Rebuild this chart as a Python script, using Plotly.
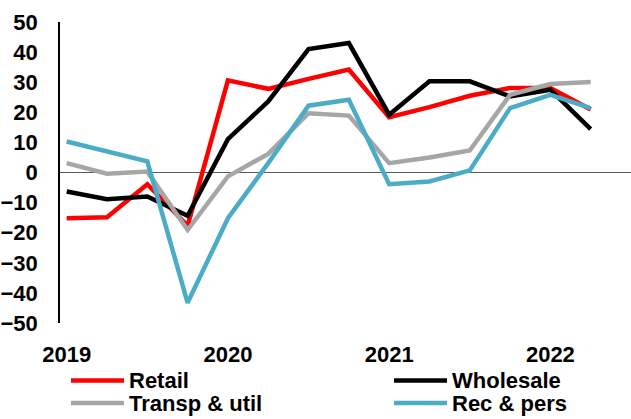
import plotly.graph_objects as go

quarters = ["2019Q1", "2019Q2", "2019Q3", "2019Q4",
            "2020Q1", "2020Q2", "2020Q3", "2020Q4",
            "2021Q1", "2021Q2", "2021Q3", "2021Q4",
            "2022Q1", "2022Q2"]

retail = [-15.2, -14.9, -3.9, -17.7, 30.6, 27.8, 31.1, 34.2, 18.4, 21.7, 25.5, 28.1, 28.1, 20.9]
wholesale = [-6.3, -8.9, -8.0, -14.4, 11.1, 23.6, 41.0, 43.0, 19.2, 30.3, 30.3, 25.3, 27.5, 14.4]
transp_util = [3.1, -0.4, 0.3, -19.1, -1.3, 6.2, 19.7, 18.9, 3.1, 5.0, 7.3, 25.8, 29.4, 30.1]
rec_pers = [10.3, 7.0, 3.7, -43.3, -15.2, 3.1, 22.2, 24.2, -3.9, -3.0, 0.7, 21.4, 25.8, 21.4]

year_ticks = ["2019Q1", "2020Q1", "2021Q1", "2022Q1"]
year_labels = ["2019", "2020", "2021", "2022"]
y_ticks = [50, 40, 30, 20, 10, 0, -10, -20, -30, -40, -50]

FONT = "Liberation Sans, Arial, sans-serif"

series = [
    ("Retail", retail, "#FF0000"),
    ("Wholesale", wholesale, "#000000"),
    ("Transp & util", transp_util, "#A6A6A6"),
    ("Rec & pers", rec_pers, "#4BACC6"),
]

# plot area in pixels (layout only)
L, R, T, B = 60, 0, 22, 96
W, H = 631, 419
PW, PH = W - L - R, H - T - B

fig = go.Figure()
for name, vals, color in series:
    fig.add_trace(go.Scatter(
        x=quarters, y=vals, name=name, mode="lines",
        line=dict(color=color, width=4.5),
        showlegend=False,
    ))

# manual two-column legend (Retail / Wholesale on row 1, Transp / Rec on row 2)
legend_cols = [71, 394]      # px x of the line-sample start per column
legend_rows = [380.5, 403]   # px y of each row centre
sample_len = 53
for i, (name, vals, color) in enumerate(series):
    col, row = i % 2, i // 2
    x0 = legend_cols[col]
    yc = legend_rows[row]
    yp = (T + PH - yc) / PH
    fig.add_shape(type="line", xref="paper", yref="paper",
                  x0=(x0 - L) / PW, x1=(x0 + sample_len - L) / PW,
                  y0=yp, y1=yp, line=dict(color=color, width=4.5))
    fig.add_annotation(xref="paper", yref="paper",
                       x=(x0 + sample_len + 3 - L) / PW, y=yp,
                       xanchor="left", yanchor="middle", showarrow=False,
                       text=name,
                       font=dict(family=FONT, size=22, color="#000000", weight="bold"))

fig.update_layout(
    width=W, height=H,
    margin=dict(l=L, r=R, t=T, b=B),
    paper_bgcolor="white", plot_bgcolor="white",
    showlegend=False,
    xaxis=dict(
        type="category",
        range=[-0.166, 14.0],
        tickvals=year_ticks, ticktext=year_labels,
        tickfont=dict(family=FONT, size=22, color="#000000", weight="bold"),
        showgrid=False, showline=False, zeroline=False,
        ticks="", ticklabelstandoff=16,
    ),
    yaxis=dict(
        range=[-50, 50],
        tickvals=y_ticks,
        tickfont=dict(family=FONT, size=22, color="#000000", weight="bold"),
        showgrid=False,
        showline=True, linecolor="#000000", linewidth=1.5,
        zeroline=True, zerolinecolor="#595959", zerolinewidth=1,
        ticks="", ticklabelstandoff=16,
    ),
)

fig.write_html("out.html")
